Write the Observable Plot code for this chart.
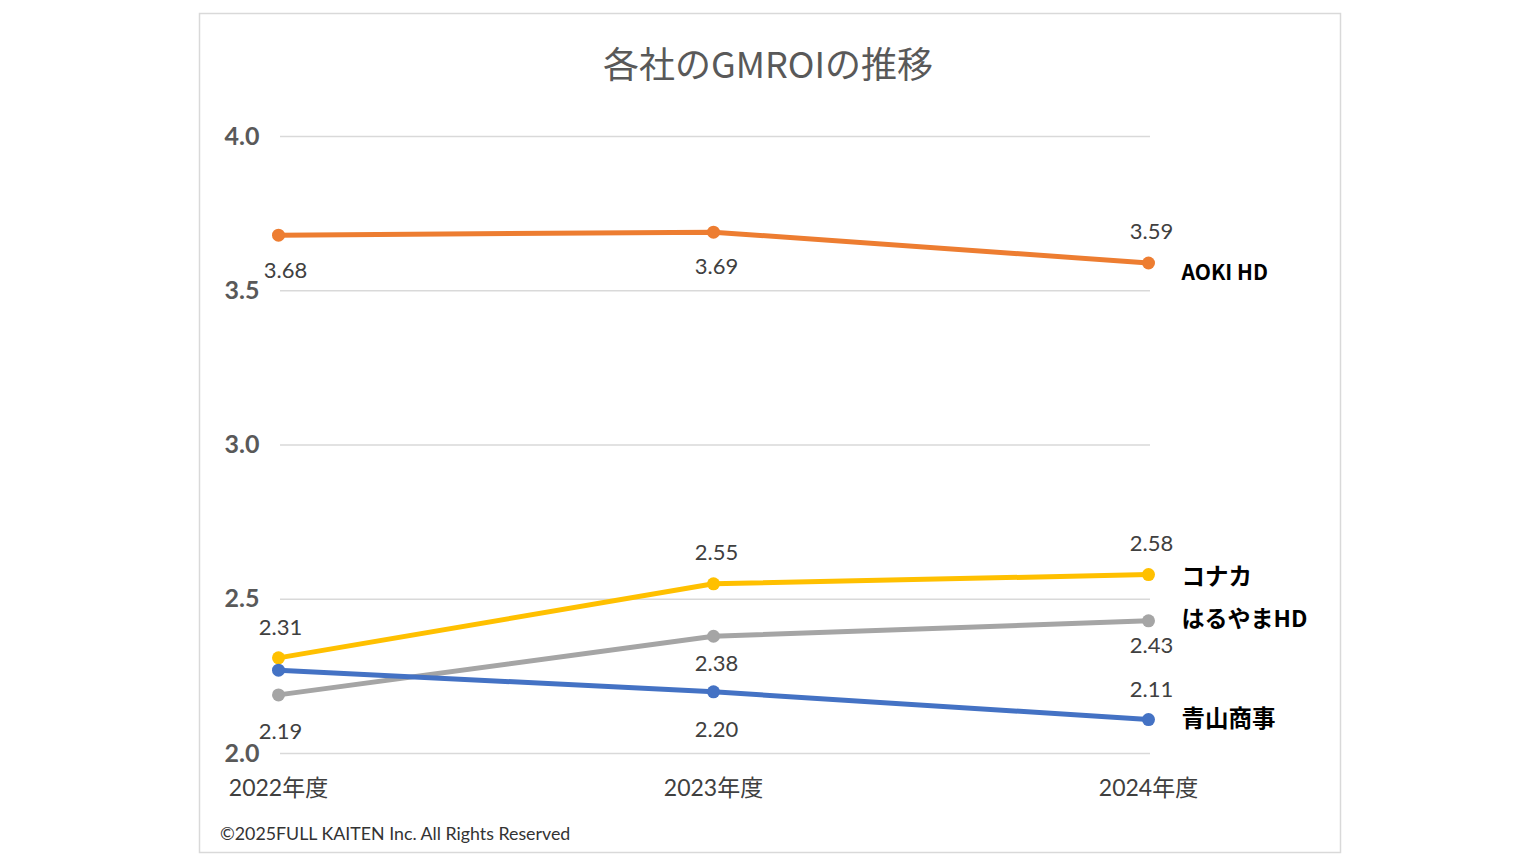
<!DOCTYPE html>
<html><head><meta charset="utf-8">
<script src="https://cdn.jsdelivr.net/npm/d3@7"></script>
<script src="https://cdn.jsdelivr.net/npm/@observablehq/plot@0.6"></script>
<style>
html,body{margin:0;padding:0;background:#fff;}
#chart{width:1540px;height:866px;}
</style></head>
<body><div id="chart"></div>
<script>
const years = ["2022年度", "2023年度", "2024年度"];
const companies = ["AOKI HD", "コナカ", "はるやまHD", "青山商事"];
const aoki = [3.68, 3.69, 3.59];
const konaka = [2.31, 2.55, 2.58];
const haruyama = [2.19, 2.38, 2.43];
const aoyama = [2.27, 2.20, 2.11];
const yTicks = [2.0, 2.5, 3.0, 3.5, 4.0];
const colors = ["#ED7D31", "#FFC000", "#A5A5A5", "#4472C4"];
const title = "各社のGMROIの推移";
const copyright = "©2025FULL KAITEN Inc. All Rights Reserved";

// label offsets in px (style, not data); null = no label
const labelDy = {
  "AOKI HD": [36, 35, -31],
  "コナカ": [-30, -31, -31],
  "はるやまHD": [37, 28, 25],
  "青山商事": [null, 38, -30]
};
const labelDx = {"AOKI HD": [7, 3, 3], "コナカ": [2, 3, 3], "はるやまHD": [2, 3, 3], "青山商事": [0, 3, 3]};
const nameDy = {"AOKI HD": 10, "コナカ": 3, "はるやまHD": -1, "青山商事": 0};
const nameSize = {"AOKI HD": 21, "コナカ": 23.5, "はるやまHD": 23, "青山商事": 23.5};

const seriesVals = [aoki, konaka, haruyama, aoyama];
const rows = [];
companies.forEach((c, i) => years.forEach((y, j) => rows.push({company: c, year: y, value: seriesVals[i][j], dy: labelDy[c][j], dx: labelDx[c][j]})));
const last = rows.filter(d => d.year === years[years.length - 1]);

const font = "Lato, 'Noto Sans CJK JP', sans-serif";

const labelMarks = rows.filter(d => d.dy !== null).map(d =>
  Plot.text([d], {x: "year", y: "value", text: r => r.value.toFixed(2), dx: d.dx, dy: d.dy, fontSize: 22, fill: "#404040"}));
const nameMarks = last.map(d =>
  Plot.text([d], {x: "year", y: "value", text: "company", dx: 33, dy: nameDy[d.company], textAnchor: "start", fontSize: nameSize[d.company], fontWeight: "bold", fill: "#000", fontFamily: "'Noto Sans CJK JP', sans-serif"}));

const plot = Plot.plot({
  width: 1540,
  height: 866,
  marginLeft: 278,
  marginRight: 392,
  marginTop: 136,
  marginBottom: 113,
  style: {fontFamily: font, background: "#fff"},
  x: {type: "point", domain: years, padding: 0},
  y: {domain: [2.0, 4.0]},
  color: {domain: companies, range: colors},
  marks: [
    Plot.ruleY(yTicks, {stroke: "#d9d9d9", strokeWidth: 1.5, dx: 2}),
    Plot.axisY({ticks: yTicks, tickFormat: d3.format(".1f"), tickSize: 0, tickPadding: 19, fontSize: 25, fontWeight: "bold", fill: "#595959", label: null}),
    Plot.axisX({tickSize: 0, tickPadding: 26, fontSize: 23, fill: "#404040", label: null, fontFamily: font}),
    Plot.line(rows, {x: "year", y: "value", z: "company", stroke: "company", strokeWidth: 5}),
    Plot.dot(rows, {x: "year", y: "value", fill: "company", r: 6.5}),
    ...labelMarks,
    ...nameMarks
  ]
});

const svg = d3.select(plot);
svg.insert("rect", ":first-child")
  .attr("x", 199.5).attr("y", 13.5).attr("width", 1141).attr("height", 839)
  .attr("fill", "none").attr("stroke", "#d9d9d9").attr("stroke-width", 1.5);
svg.append("text").attr("x", 768).attr("y", 62).attr("text-anchor", "middle").attr("dominant-baseline", "central")
  .attr("font-size", 36).attr("fill", "#595959").attr("font-family", "'Noto Sans CJK JP', sans-serif").text(title);
svg.append("text").attr("x", 220).attr("y", 833).attr("text-anchor", "start").attr("dominant-baseline", "central")
  .attr("font-size", 17.8).attr("fill", "#333").attr("font-family", font).text(copyright);
document.getElementById("chart").appendChild(plot);
</script></body></html>
